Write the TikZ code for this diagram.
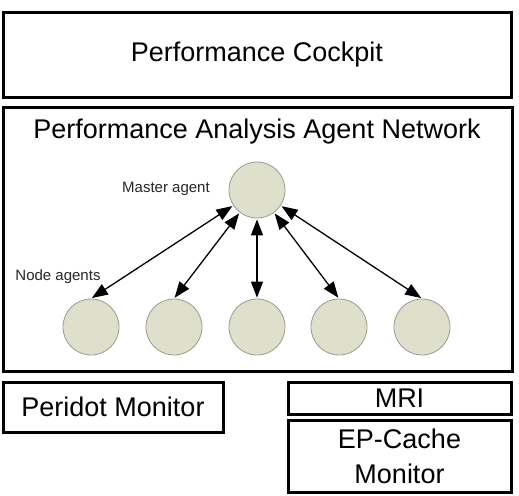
\documentclass[tikz,border=0pt]{standalone}
\usepackage{fontspec}
\setmainfont{Liberation Sans}
\usetikzlibrary{arrows.meta}
\definecolor{agentfill}{HTML}{DEE0CB}
\definecolor{agentline}{HTML}{9A9A90}
\tikzset{
  box/.style={draw=black, line width=3pt, rectangle, inner sep=0pt, font=\fontsize{27}{35}\selectfont, align=center},
  agent/.style={circle, draw=agentline, fill=agentfill, line width=0.8pt, minimum size=56pt, inner sep=0pt},
  lbl/.style={font=\fontsize{15}{18}\selectfont, text=black!85, inner sep=0pt},
  link/.style={{Triangle[length=16pt,width=12pt]}-{Triangle[length=16pt,width=12pt]}, line width=1.3pt, shorten <=1pt, shorten >=1pt}
}
\begin{document}
\begin{tikzpicture}[x=1pt,y=-1pt]
\useasboundingbox (0,0) rectangle (519,495);
\node[box, minimum width=508pt, minimum height=84pt] (cockpit) at (257,55) {Performance Cockpit};
\node[box, minimum width=509pt, minimum height=264pt] (net) at (257.5,239) {};
\node[inner sep=0pt, font=\fontsize{27}{33}\selectfont] (title) at (257,132) {Performance Analysis Agent Network};
\node[box, minimum width=220pt, minimum height=50pt] (peridot) at (113,407) {Peridot Monitor};
\node[box, minimum width=223pt, minimum height=32pt] (mri) at (399.5,398) {MRI};
\node[box, minimum width=223pt, minimum height=72pt] (ep) at (399.5,456) {EP-Cache\\Monitor};
\node[agent] (m) at (257,190) {};
\node[agent] (n1) at (91,327) {};
\node[agent] (n2) at (174,327) {};
\node[agent] (n3) at (257,327) {};
\node[agent] (n4) at (339,327) {};
\node[agent] (n5) at (422,327) {};
\node[lbl] (ml) at (166,189) {Master agent};
\node[lbl] (nl) at (58,277) {Node agents};
\draw[link] (m) -- (n1.north);
\draw[link] (m) -- (n2.north);
\draw[link] (m) -- (n3.north);
\draw[link] (m) -- (n4.north);
\draw[link] (m) -- (n5.north);
\end{tikzpicture}
\end{document}
